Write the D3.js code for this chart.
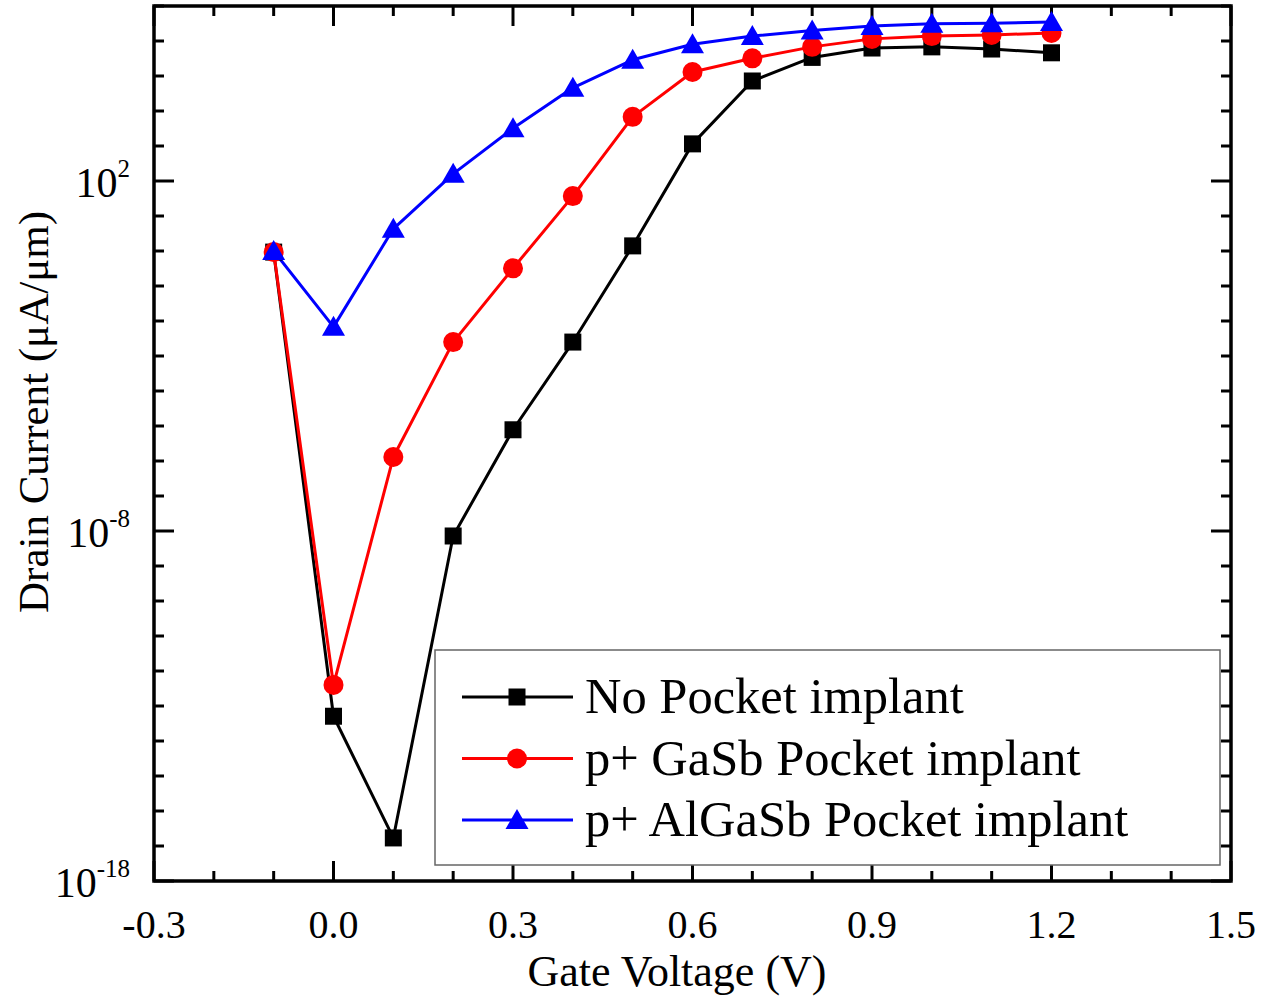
<!DOCTYPE html>
<html><head><meta charset="utf-8">
<script src="https://cdn.jsdelivr.net/npm/d3@7"></script>
<style>body{margin:0;background:#fff}svg{display:block}text{font-family:"Liberation Serif","Times New Roman",serif;fill:#000}</style>
</head><body>
<svg id="chart" width="1272" height="998"></svg>
<script>
const gateVoltage = [-0.1, 0.0, 0.1, 0.2, 0.3, 0.4, 0.5, 0.6, 0.7, 0.8, 0.9, 1.0, 1.1, 1.2];
const noPocket   = [0.93, 5.1e-14, 1.7e-17, 7.2e-9, 7.8e-6, 2.5e-3, 1.4, 1150, 7.2e4, 3.4e5, 6.3e5, 6.8e5, 5.9e5, 4.6e5];
const gasbPocket = [0.93, 4.0e-13, 1.3e-6, 2.5e-3, 0.32, 37, 6.8e3, 1.3e5, 3.2e5, 6.8e5, 1.15e6, 1.38e6, 1.48e6, 1.7e6];
const algasbPocket = [1.0, 6.8e-3, 4.3, 160, 3.2e3, 4.6e4, 2.9e5, 8.1e5, 1.38e6, 2.0e6, 2.7e6, 3.1e6, 3.2e6, 3.5e6];
const seriesNames = ["No Pocket implant", "p+ GaSb Pocket implant", "p+ AlGaSb Pocket implant"];
const xTickLabels = ["-0.3", "0.0", "0.3", "0.6", "0.9", "1.2", "1.5"];
const yTickExponents = ["-18", "-8", "2"];
const xTitle = "Gate Voltage (V)";
const yTitle = "Drain Current (μA/μm)";

const svg = d3.select("#chart");
const L = 154, R = 1231, T = 6, B = 881;
const x = d3.scaleLinear().domain([-0.3, 1.5]).range([L, R]);
const y = d3.scaleLog().domain([1e-18, 1e7]).range([B, T]);

const series = [
  {name: seriesNames[0], values: noPocket, color: "#000000", shape: "square"},
  {name: seriesNames[1], values: gasbPocket, color: "#ff0000", shape: "circle"},
  {name: seriesNames[2], values: algasbPocket, color: "#0000ff", shape: "triangle"}
];

function marker(g, shape, cx, cy, color) {
  if (shape === "square") g.append("rect").attr("x", cx - 8.5).attr("y", cy - 8.5).attr("width", 17).attr("height", 17).attr("fill", color);
  else if (shape === "circle") g.append("circle").attr("cx", cx).attr("cy", cy).attr("r", 10).attr("fill", color);
  else g.append("path").attr("d", `M${cx},${cy - 11}L${cx + 11.5},${cy + 9}L${cx - 11.5},${cy + 9}Z`).attr("fill", color);
}

// ticks
const xMinor = d3.range(-0.3, 1.5001, 0.1).map(v => +v.toFixed(2));
const xMajor = xTickLabels.map(Number);
const yDecades = d3.range(-18, 8, 1);
const tg = svg.append("g").attr("stroke", "#000").attr("stroke-width", 3);
xMinor.forEach(v => {
  const isMajor = xMajor.some(m => Math.abs(m - v) < 1e-6);
  const len = isMajor ? 20 : 10;
  const px = x(v);
  tg.append("line").attr("x1", px).attr("x2", px).attr("y1", B).attr("y2", B - len);
  tg.append("line").attr("x1", px).attr("x2", px).attr("y1", T).attr("y2", T + len);
});
yDecades.forEach(e => {
  const isMajor = yTickExponents.map(Number).includes(e);
  const len = isMajor ? 20 : 10;
  const py = y(Math.pow(10, e));
  tg.append("line").attr("x1", L).attr("x2", L + len).attr("y1", py).attr("y2", py);
  tg.append("line").attr("x1", R).attr("x2", R - len).attr("y1", py).attr("y2", py);
});

// series lines & markers
const line = d3.line().x((d, i) => x(gateVoltage[i])).y(d => y(d));
series.forEach(s => {
  svg.append("path").datum(s.values).attr("d", line).attr("fill", "none").attr("stroke", s.color).attr("stroke-width", 3).attr("stroke-linejoin", "round");
});
series.forEach(s => {
  const g = svg.append("g");
  s.values.forEach((v, i) => marker(g, s.shape, x(gateVoltage[i]), y(v), s.color));
});

// frame
svg.append("rect").attr("x", L).attr("y", T).attr("width", R - L).attr("height", B - T)
  .attr("fill", "none").attr("stroke", "#000").attr("stroke-width", 3.5);

// x tick labels
xTickLabels.forEach(t => {
  svg.append("text").attr("x", x(+t)).attr("y", 938).attr("text-anchor", "middle").attr("font-size", 40).text(t);
});
// y tick labels
yTickExponents.forEach(e => {
  const py = y(Math.pow(10, +e));
  const t = svg.append("text").attr("x", 130).attr("y", py + 16).attr("text-anchor", "end").attr("font-size", 42);
  t.append("tspan").text("10");
  t.append("tspan").attr("font-size", 25).attr("dy", -20).text(e);
});

// axis titles
svg.append("text").attr("x", 677).attr("y", 986).attr("text-anchor", "middle").attr("font-size", 44).text(xTitle);
svg.append("text").attr("transform", "translate(48,412) rotate(-90)").attr("text-anchor", "middle").attr("font-size", 43).text(yTitle);

// legend
const lg = svg.append("g");
lg.append("rect").attr("x", 435).attr("y", 650).attr("width", 785).attr("height", 215)
  .attr("fill", "#fff").attr("stroke", "#666").attr("stroke-width", 1.5);
series.forEach((s, i) => {
  const ly = 697 + i * 61.5;
  lg.append("line").attr("x1", 462).attr("x2", 573).attr("y1", ly).attr("y2", ly).attr("stroke", s.color).attr("stroke-width", 3);
  marker(lg, s.shape, 517, ly, s.color);
  lg.append("text").attr("x", 585).attr("y", ly + 16).attr("font-size", 50.5).text(s.name);
});
</script>
</body></html>
